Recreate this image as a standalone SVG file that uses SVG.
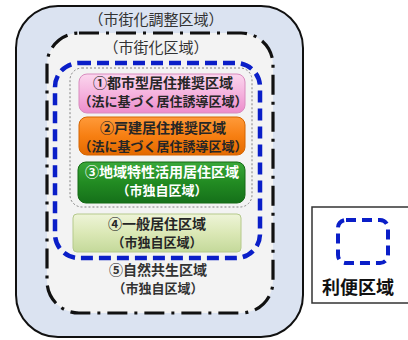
<svg xmlns="http://www.w3.org/2000/svg" width="408" height="340" viewBox="0 0 408 340">
<defs>
<linearGradient id="gPink" x1="0" y1="0" x2="0" y2="1">
<stop offset="0" stop-color="#fbd6ee"/><stop offset="0.5" stop-color="#f5b3de"/><stop offset="1" stop-color="#ec8ccb"/>
</linearGradient>
<linearGradient id="gOrange" x1="0" y1="0" x2="0" y2="1">
<stop offset="0" stop-color="#ff9a3a"/><stop offset="0.5" stop-color="#f77f12"/><stop offset="1" stop-color="#e36a00"/>
</linearGradient>
<linearGradient id="gGreen" x1="0" y1="0" x2="0" y2="1">
<stop offset="0" stop-color="#3aa83a"/><stop offset="0.5" stop-color="#228b22"/><stop offset="1" stop-color="#15701a"/>
</linearGradient>
<linearGradient id="gLight" x1="0" y1="0" x2="0" y2="1">
<stop offset="0" stop-color="#eef4d8"/><stop offset="0.5" stop-color="#dbe8b6"/><stop offset="1" stop-color="#c4d99a"/>
</linearGradient>
<style>
.t{font-family:"Noto Sans CJK JP","Noto Sans CJK SC",sans-serif;text-anchor:middle;fill:#262626}
.h{font-size:15px;fill:#333}
.b{font-size:14px;font-weight:bold}
.s{font-size:13px}
.w{fill:#ffffff}
.g{fill:#333}
.blue{fill:none;stroke:#0a1ec8;stroke-width:4.5;stroke-dasharray:12 6}
.dd{fill:#f3f3f3;stroke:#111;stroke-width:3.2;stroke-dasharray:20 7 3 7}
</style>
</defs>
<g id="outer">
<rect x="16" y="6" width="287" height="331" rx="42" fill="#dbe3f1" stroke="#111" stroke-width="2"/>
<text class="t h" x="156" y="25">（市街化調整区域）</text>
</g>
<g id="shigaika">
<rect class="dd" x="47" y="33" width="226" height="280" rx="32"/>
<text class="t h" x="156" y="53">（市街化区域）</text>
</g>
<g id="region5">
<text class="t b g" x="158" y="275">⑤自然共生区域</text>
<text class="t b s g" x="158" y="293">（市独自区域）</text>
</g>
<g id="dotted-group">
<rect x="70" y="68" width="182" height="139" rx="12" fill="none" stroke="#777" stroke-width="0.9" stroke-dasharray="2 2"/>
</g>
<g id="region1">
<rect x="79" y="74" width="166" height="39" rx="8" fill="url(#gPink)" stroke="#d98cbf" stroke-width="1"/>
<text class="t b" x="163" y="88">①都市型居住推奨区域</text>
<text class="t b s" x="163" y="106">（法に基づく居住誘導区域）</text>
</g>
<g id="region2">
<rect x="79" y="117" width="166" height="38" rx="8" fill="url(#gOrange)" stroke="#d56500" stroke-width="1"/>
<text class="t b" x="163" y="133">②戸建居住推奨区域</text>
<text class="t b s" x="163" y="151">（法に基づく居住誘導区域）</text>
</g>
<g id="region3">
<rect x="78" y="162" width="167" height="41" rx="8" fill="url(#gGreen)" stroke="#146a14" stroke-width="1"/>
<text class="t b w" x="162" y="177">③地域特性活用居住区域</text>
<text class="t b s w" x="162" y="195">（市独自区域）</text>
</g>
<g id="region4">
<rect x="73" y="214" width="168" height="38" rx="4" fill="url(#gLight)" stroke="#b5c98c" stroke-width="1"/>
<text class="t b" x="157" y="229">④一般居住区域</text>
<text class="t b s" x="157" y="247">（市独自区域）</text>
</g>
<g id="connectors">
<rect class="blue" x="55" y="63" width="205" height="195" rx="24"/>
</g>
<g id="legend">
<rect x="312" y="207" width="100" height="96" fill="#ffffff" stroke="#333" stroke-width="1.5"/>
<rect x="338" y="220" width="50" height="43" rx="8" fill="none" stroke="#0a1ec8" stroke-width="4" stroke-dasharray="10 6"/>
<text class="t" x="358" y="294" style="font-size:18px;font-weight:bold;fill:#111">利便区域</text>
</g>
</svg>
